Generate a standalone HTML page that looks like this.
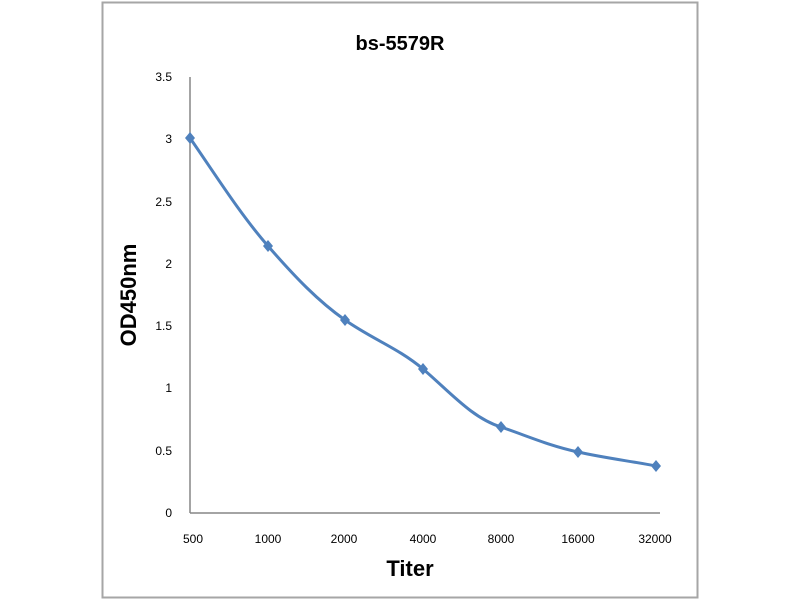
<!DOCTYPE html>
<html><head><style>body{margin:0;background:#fff}svg{display:block}</style></head><body>
<svg width="800" height="600" xmlns="http://www.w3.org/2000/svg" font-family="Liberation Sans, sans-serif">
<rect x="102.5" y="2.5" width="595" height="595" fill="#fff" stroke="#a6a6a6" stroke-width="2"/>
<text x="400" y="50" text-anchor="middle" font-size="20" font-weight="bold">bs-5579R</text>
<line x1="190" y1="77" x2="190" y2="513" stroke="#868686" stroke-width="1.5"/>
<line x1="190" y1="513" x2="660" y2="513" stroke="#868686" stroke-width="1.5"/>
<g font-size="12" text-anchor="end" fill="#000">
<text x="172" y="81">3.5</text><text x="172" y="143">3</text><text x="172" y="206">2.5</text><text x="172" y="268">2</text><text x="172" y="330">1.5</text><text x="172" y="392">1</text><text x="172" y="455">0.5</text><text x="172" y="517">0</text>
</g>
<g font-size="12" text-anchor="middle">
<text x="193" y="543">500</text><text x="268" y="543">1000</text><text x="344" y="543">2000</text><text x="423" y="543">4000</text><text x="501" y="543">8000</text><text x="578" y="543">16000</text><text x="655" y="543">32000</text>
</g>
<text x="410" y="576" text-anchor="middle" font-size="22" font-weight="bold">Titer</text>
<text transform="translate(136,295) rotate(-90)" text-anchor="middle" font-size="22" font-weight="bold">OD450nm</text>
<path d="M190,138 C215,174 240,214 268,246 C295,277 318,301 345,320 C372,339 398,348 423,369 C450,392 472,418 501,427 C530,437 550,446 578,452 C605,458 630,461 656,466" fill="none" stroke="#4f81bd" stroke-width="3"/>
<g fill="#4f81bd">
<path d="M190,132 l5,6 -5,6 -5,-6z"/><path d="M268,240 l5,6 -5,6 -5,-6z"/><path d="M345,314 l5,6 -5,6 -5,-6z"/><path d="M423,363 l5,6 -5,6 -5,-6z"/><path d="M501,421 l5,6 -5,6 -5,-6z"/><path d="M578,446 l5,6 -5,6 -5,-6z"/><path d="M656,460 l5,6 -5,6 -5,-6z"/>
</g>
</svg>
</body></html>
